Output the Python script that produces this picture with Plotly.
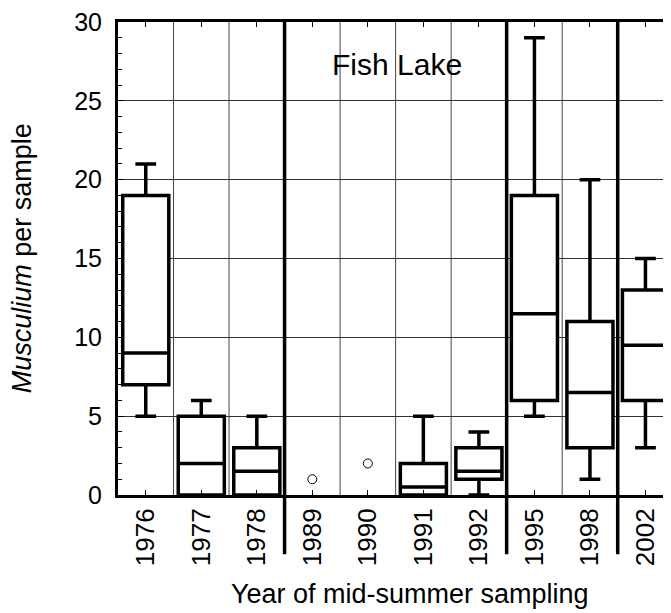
import plotly.graph_objects as go

# data (Musculium per sample, Fish Lake)
years = ["1976", "1977", "1978", "1989", "1990", "1991", "1992", "1995", "1998", "2002"]

box_years = ["1976", "1977", "1978", "1991", "1992", "1995", "1998", "2002"]
lower = [5, 0, 0, 0, 0, 5, 1, 3]
q1 = [7, 0, 0, 0, 1, 6, 3, 6]
median = [9, 2, 1.5, 0.5, 1.5, 11.5, 6.5, 9.5]
q3 = [19, 5, 3, 2, 3, 19, 11, 13]
upper = [21, 6, 5, 5, 4, 29, 20, 15]

point_years = ["1989", "1990"]
point_values = [1, 2]

# periods separated by heavy lines (after these years)
period_ends = ["1978", "1992", "1998"]

FONT = "Arial, Liberation Sans, sans-serif"

fig = go.Figure()

fig.add_trace(go.Box(
    x=box_years, q1=q1, median=median, q3=q3,
    lowerfence=lower, upperfence=upper,
    fillcolor="white", line=dict(color="black", width=3.5),
    whiskerwidth=0.45, boxpoints=False, showlegend=False,
))

fig.add_trace(go.Scatter(
    x=point_years, y=point_values, mode="markers",
    marker=dict(symbol="circle-open", size=9, color="black", line=dict(width=1)),
    showlegend=False,
))

# thin lines between years, heavy lines between sampling periods
shapes = []
for i, yr in enumerate(years[:-1]):
    heavy = yr in period_ends
    shapes.append(dict(
        type="line", xref="x", yref="paper",
        x0=i + 0.5, x1=i + 0.5,
        y0=-0.125 if heavy else 0, y1=1,
        line=dict(color="black" if heavy else "#444", width=3.5 if heavy else 1),
        layer="above" if heavy else "below",
    ))

# page body keeps its default 8px margin, so the figure is 8px smaller
fig.update_layout(
    width=663, height=605,
    margin=dict(l=110, r=0, t=14, b=118),
    plot_bgcolor="white", paper_bgcolor="white",
    font=dict(family=FONT, color="black", size=22),
    boxgap=0.17, boxgroupgap=0,
    shapes=shapes,
    annotations=[
        dict(text="Fish Lake", xref="paper", yref="y", x=0.505, y=27.3,
             xanchor="center", yanchor="middle", showarrow=False,
             font=dict(size=30)),
        dict(text="Year of mid-summer sampling", xref="paper", yref="paper",
             x=0.528, y=-0.209, xanchor="center", yanchor="middle",
             showarrow=False, font=dict(size=27)),
        dict(text="<i>Musculium</i> per sample", xref="paper", yref="paper",
             x=-0.174, y=0.5, xanchor="center", yanchor="middle",
             textangle=-90, showarrow=False, font=dict(size=27)),
    ],
)

fig.update_xaxes(
    type="category", categoryorder="array", categoryarray=years,
    range=[-0.5, 9.46], automargin=False,
    showline=True, linewidth=3, linecolor="black", mirror="ticks",
    ticks="inside", ticklen=5, tickwidth=1, tickcolor="black",
    tickangle=-90, tickfont=dict(size=26),
    showgrid=False, zeroline=False,
)

fig.update_yaxes(
    range=[0, 30], dtick=5, automargin=False, ticklabeloverflow="allow",
    showline=True, linewidth=3, linecolor="black",
    ticks="inside", ticklen=6, tickwidth=1, tickcolor="black",
    minor=dict(dtick=1, ticks="inside", ticklen=4, tickcolor="black", showgrid=False),
    showgrid=True, gridcolor="#333", gridwidth=1, zeroline=False,
    tickfont=dict(size=25), ticklabelstandoff=8,
)

fig.write_html("out.html")
